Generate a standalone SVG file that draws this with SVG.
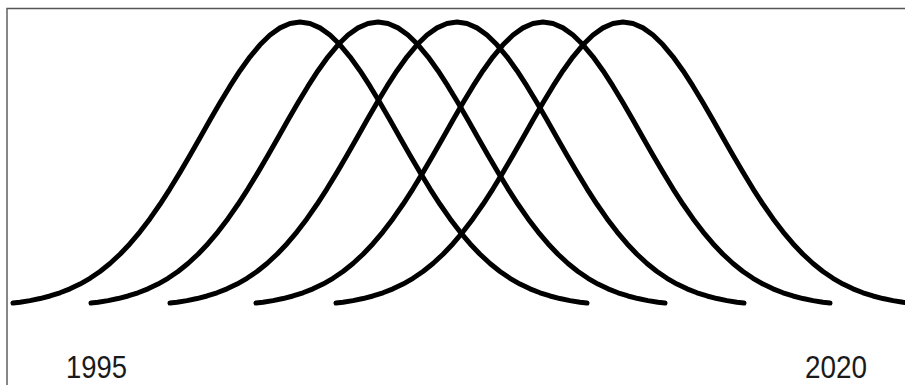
<svg xmlns="http://www.w3.org/2000/svg" xmlns:xlink="http://www.w3.org/1999/xlink" width="905" height="385" viewBox="0 0 905 385">
<style>
.bell{fill:none;stroke:#000;stroke-width:5;stroke-linecap:round;stroke-linejoin:round}
.frame{fill:none;stroke:#555;stroke-width:1.4}
.year{font-family:"Liberation Sans",Arial,sans-serif;font-size:31px;fill:#1a1a1a}
</style>
<defs>
<path id="bell" d="M-287,303.09 L-280,302.19 L-270,300.6 L-260,298.56 L-250,295.99 L-240,292.79 L-230,288.86 L-220,284.07 L-210,278.31 L-200,271.48 L-190,263.49 L-180,254.24 L-170,243.69 L-160,231.83 L-150,218.67 L-140,204.27 L-130,188.77 L-120,172.33 L-110,155.2 L-100,137.66 L-90,120.06 L-80,102.75 L-70,86.18 L-60,70.71 L-50,56.78 L-40,44.78 L-30,35.05 L-20,27.87 L-10,23.48 L0,22 L10,23.48 L20,27.87 L30,35.05 L40,44.78 L50,56.78 L60,70.71 L70,86.18 L80,102.75 L90,120.06 L100,137.66 L110,155.2 L120,172.33 L130,188.77 L140,204.27 L150,218.67 L160,231.83 L170,243.69 L180,254.24 L190,263.49 L200,271.48 L210,278.31 L220,284.07 L230,288.86 L240,292.79 L250,295.99 L260,298.56 L270,300.6 L280,302.19 L287,303.09"/>
</defs>
<rect width="905" height="385" fill="#fff"/>
<path class="frame" d="M7,385 V8.5 H905"/>
<g id="curves">
<g id="curve1"><use href="#bell" xlink:href="#bell" class="bell" x="300"/></g>
<g id="curve2"><use href="#bell" xlink:href="#bell" class="bell" x="378"/></g>
<g id="curve3"><use href="#bell" xlink:href="#bell" class="bell" x="457"/></g>
<g id="curve4"><use href="#bell" xlink:href="#bell" class="bell" x="543"/></g>
<g id="curve5"><use href="#bell" xlink:href="#bell" class="bell" x="623"/></g>
</g>
<g id="labels">
<text class="year" x="66" y="378" textLength="61" lengthAdjust="spacingAndGlyphs">1995</text>
<text class="year" x="805" y="378" textLength="62" lengthAdjust="spacingAndGlyphs">2020</text>
</g>
</svg>
